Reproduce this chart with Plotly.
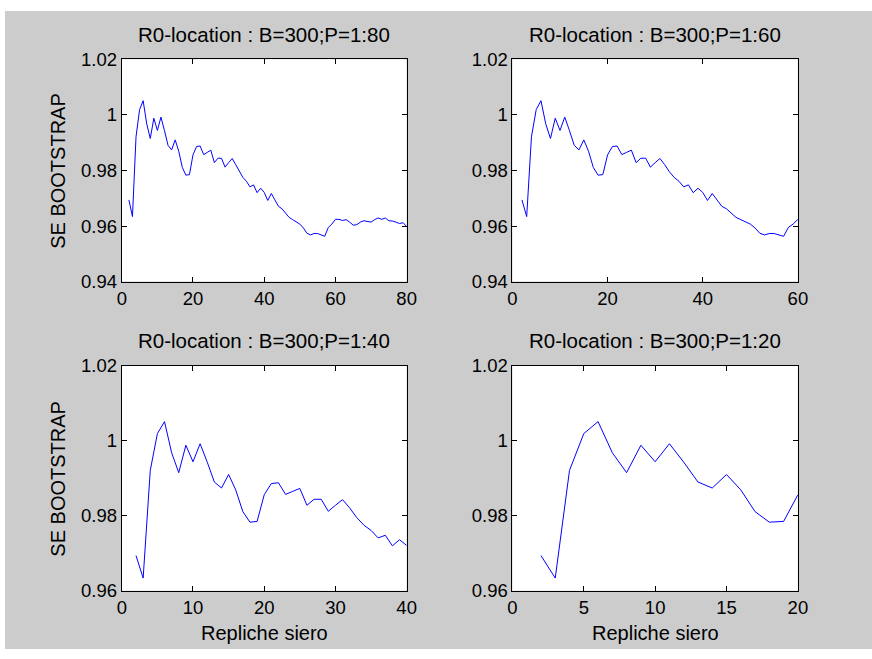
import plotly.graph_objects as go

# ---- data ----
replicates = list(range(2, 81))
se_bootstrap = [
    0.9694, 0.9634, 0.9921, 1.0019, 1.0051, 0.9968, 0.9915, 0.9988, 0.9944,   # 2-10
    0.9992, 0.9943, 0.9890, 0.9874, 0.9910, 0.9869, 0.9811, 0.9783, 0.9785, 0.9856,  # 11-20
    0.9886, 0.9888, 0.9857, 0.9865, 0.9873, 0.9828, 0.9844, 0.9844, 0.9812, 0.9828,  # 21-30
    0.9843, 0.9821, 0.9795, 0.9775, 0.9761, 0.9741, 0.9748, 0.9720, 0.9736, 0.9721,  # 31-40
    0.9692, 0.9717, 0.9694, 0.9671, 0.9662, 0.9647, 0.9631, 0.9623, 0.9614, 0.9607,  # 41-50
    0.9593, 0.9574, 0.9568, 0.9573, 0.9573, 0.9568, 0.9563, 0.9595, 0.9607, 0.9624,  # 51-60
    0.9624, 0.9620, 0.9623, 0.9614, 0.9603, 0.9605, 0.9614, 0.9619, 0.9617, 0.9614,  # 61-70
    0.9623, 0.9629, 0.9624, 0.9629, 0.9619, 0.9618, 0.9614, 0.9609, 0.9612, 0.9598,  # 71-80
]
panel_limits = [80, 60, 40, 20]
panel_titles = ["R0-location : B=300;P=1:80", "R0-location : B=300;P=1:60",
                "R0-location : B=300;P=1:40", "R0-location : B=300;P=1:20"]
x_ticks = [[0, 20, 40, 60, 80], [0, 20, 40, 60], [0, 10, 20, 30, 40], [0, 5, 10, 15, 20]]
y_ticks_top = [0.94, 0.96, 0.98, 1.0, 1.02]
y_ticks_top_text = ["0.94", "0.96", "0.98", "1", "1.02"]
y_ticks_bot = [0.96, 0.98, 1.0, 1.02]
y_ticks_bot_text = ["0.96", "0.98", "1", "1.02"]
y_label = "SE BOOTSTRAP"
x_label = "Repliche siero"

W, H = 882, 659
FONT = "Arial, Liberation Sans, Helvetica, sans-serif"

# pixel boxes (left, right, top, bottom) in figure pixels
boxes = [(118.8, 408.6, 49.9, 279.5), (516.2, 806.6, 49.9, 279.5),
         (118.8, 408.6, 366.4, 598.9), (516.2, 806.6, 366.4, 598.9)]
title_gap = 26
ylabel_x = 54.3
xlabel_y = 642.5

def px(x):
    return x / W

def py(y):
    return 1 - y / H

fig = go.Figure()
layout = dict(
    width=W, height=H, autosize=False,
    margin=dict(l=0, r=0, t=0, b=0, pad=0),
    paper_bgcolor="white", plot_bgcolor="rgba(0,0,0,0)",
    showlegend=False,
    font=dict(family=FONT, size=18.5, color="black"),
)
shapes = [dict(type="rect", xref="paper", yref="paper", x0=0, x1=1, y0=0, y1=1,
               fillcolor="#cccccc", line=dict(width=0), layer="below")]
annotations = []
for i in range(4):
    lim = panel_limits[i]
    xs = [r for r in replicates if r <= lim]
    ys = se_bootstrap[:len(xs)]
    n = "" if i == 0 else str(i + 1)
    fig.add_trace(go.Scatter(x=xs, y=ys, mode="lines", xaxis="x" + n, yaxis="y" + n,
                             line=dict(color="#0000ff", width=1), hoverinfo="skip"))
    l, r, t, b = boxes[i]
    top = i < 2
    shapes.append(dict(type="rect", xref="paper", yref="paper", x0=px(l), x1=px(r),
                       y0=py(b), y1=py(t), fillcolor="white", line=dict(width=0),
                       layer="below"))
    axcommon = dict(showgrid=False, zeroline=False, showline=True, linecolor="black",
                    linewidth=1, mirror="ticks", ticks="inside", ticklen=5,
                    tickcolor="black", tickwidth=1, tickfont=dict(family=FONT, size=18.5))
    layout["xaxis" + n] = dict(domain=[px(l), px(r)], anchor="y" + n, range=[0, lim],
                               tickvals=x_ticks[i], ticktext=[str(v) for v in x_ticks[i]],
                               **axcommon)
    layout["yaxis" + n] = dict(domain=[py(b), py(t)], anchor="x" + n,
                               range=[0.94, 1.02] if top else [0.96, 1.02],
                               tickvals=y_ticks_top if top else y_ticks_bot,
                               ticktext=y_ticks_top_text if top else y_ticks_bot_text,
                               **axcommon)
    annotations.append(dict(text=panel_titles[i], x=px((l + r) / 2), y=py(t - title_gap),
                            xref="paper", yref="paper", showarrow=False,
                            xanchor="center", yanchor="middle",
                            font=dict(family=FONT, size=20.5, color="black")))
    if i % 2 == 0:
        annotations.append(dict(text=y_label, x=px(ylabel_x), y=py((t + b) / 2), textangle=-90,
                                xref="paper", yref="paper", showarrow=False,
                                xanchor="center", yanchor="middle",
                                font=dict(family=FONT, size=20, color="black")))
    if not top:
        annotations.append(dict(text=x_label, x=px((l + r) / 2), y=py(xlabel_y),
                                xref="paper", yref="paper", showarrow=False,
                                xanchor="center", yanchor="middle",
                                font=dict(family=FONT, size=20, color="black")))
layout["annotations"] = annotations
layout["shapes"] = shapes
fig.update_layout(**layout)
fig.write_html("out.html")
